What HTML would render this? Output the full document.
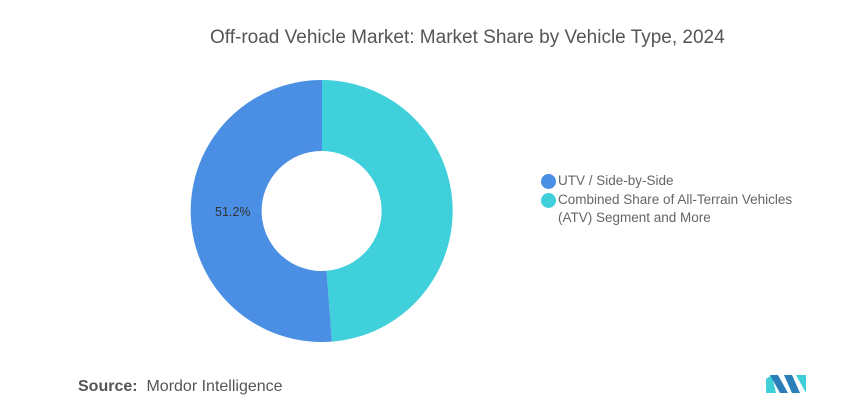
<!DOCTYPE html>
<html><head><style>
body{margin:0;width:868px;height:411px;background:#fff;font-family:"Liberation Sans",sans-serif;overflow:hidden;position:relative}
.t{position:absolute;top:27px;left:210px;white-space:nowrap;font-size:19px;color:#555}
.lg{position:absolute;left:541px;font-size:13.5px;color:#666;line-height:18px}
.d{position:absolute;width:15px;height:15px;border-radius:50%;left:-1px}
.src{position:absolute;left:78px;top:378px;font-size:16px;color:#555}
</style></head><body>
<div class="t">Off-road Vehicle Market: Market Share by Vehicle Type, 2024</div>
<svg width="868" height="411" style="position:absolute;left:0;top:0">
<path d="M322 80 A131 131 0 0 1 331.9 341.6 L326.5 270.8 A60 60 0 0 0 322 151 Z" fill="#40d0dc"/>
<path d="M322 80 A131 131 0 1 0 331.9 341.6 L326.5 270.8 A60 60 0 1 1 322 151 Z" fill="#4a8fe3"/>
<text x="215" y="216" font-size="12.5" fill="#333" font-family="Liberation Sans">51.2%</text>
<g transform="translate(766,375)">
<polygon points="0,18 0,4 6,0 10,18" fill="#3ecfd8"/>
<polygon points="4,0 12,0 22,18 14,18" fill="#2a7fb8"/>
<polygon points="18,0 26,0 34,18 26,18" fill="#2a7fb8"/>
<polygon points="30,0 40,0 40,18" fill="#3ecfd8"/>
</g>
</svg>
<div class="lg" style="top:172px"><span class="d" style="background:#4a8fe3;top:2px;left:0"></span><span style="margin-left:17px">UTV / Side-by-Side</span></div>
<div class="lg" style="top:191px"><span class="d" style="background:#40d0dc;top:2px;left:0"></span><div style="margin-left:17px">Combined Share of All-Terrain Vehicles<br>(ATV) Segment and More</div></div>
<div class="src"><b style="font-weight:bold">Source:</b>&nbsp; Mordor Intelligence</div>
</body></html>
